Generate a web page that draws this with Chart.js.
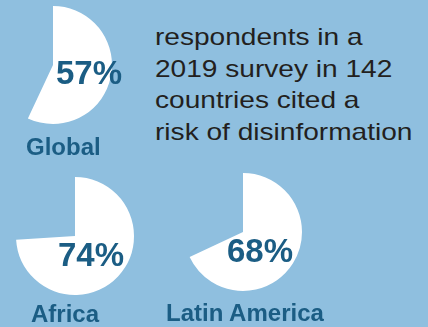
<!DOCTYPE html>
<html>
<head>
<meta charset="utf-8">
<script src="https://cdn.jsdelivr.net/npm/chart.js@4"></script>
<style>
  body { margin: 0; }
  #wrap { position: relative; width: 428px; height: 327px; background: #8fbfdf; overflow: hidden; font-family: "Liberation Sans", Arial, sans-serif; }
  .pie { position: absolute; width: 124px; height: 124px; }
  .pct { position: absolute; font-weight: bold; font-size: 33px; line-height: 33px; color: #1b5d84; white-space: nowrap; }
  .name { position: absolute; font-weight: bold; font-size: 24px; line-height: 24px; color: #1b5d84; white-space: nowrap; }
  #note { position: absolute; left: 155px; top: 21px; font-size: 24px; line-height: 31.5px; color: #231f20; transform: scaleX(1.17); transform-origin: left top; white-space: nowrap; }
</style>
</head>
<body>
<div id="wrap">
  <div id="note">respondents in a<br>2019 survey in 142<br>countries cited a<br>risk of disinformation</div>
</div>
<script>
const regions = ['Global', 'Africa', 'Latin America'];
const shares = [57, 74, 68];

// where each pie sits on the page, plus label spots
const centers = [[53, 64.5], [75, 236], [243, 232]];
const pctPos = [[56, 56], [58, 238], [227, 234]];
const namePos = [[26, 134.7], [31, 301.7], [166, 300.7]];

const wrap = document.getElementById('wrap');

regions.forEach((name, i) => {
    const box = document.createElement('div');
    box.className = 'pie';
    box.style.left = (centers[i][0] - 62) + 'px';
    box.style.top = (centers[i][1] - 62) + 'px';
    const cv = document.createElement('canvas');
    cv.width = 124; cv.height = 124;
    box.appendChild(cv);
    wrap.insertBefore(box, wrap.firstChild);

    new Chart(cv, {
        type: 'pie',
        data: {
            labels: [name, 'other'],
            datasets: [{
                data: [shares[i], 100 - shares[i]],
                backgroundColor: ['#ffffff', 'rgba(0,0,0,0)'],
                borderWidth: 0
            }]
        },
        options: {
            responsive: false,
            animation: false,
            radius: 59,
            layout: { padding: 0 },
            plugins: { legend: { display: false }, tooltip: { enabled: false } }
        }
    });

    const p = document.createElement('div');
    p.className = 'pct';
    p.textContent = shares[i] + '%';
    p.style.left = pctPos[i][0] + 'px';
    p.style.top = pctPos[i][1] + 'px';
    wrap.appendChild(p);

    const n = document.createElement('div');
    n.className = 'name';
    n.textContent = name;
    n.style.left = namePos[i][0] + 'px';
    n.style.top = namePos[i][1] + 'px';
    wrap.appendChild(n);
});
</script>
</body>
</html>
